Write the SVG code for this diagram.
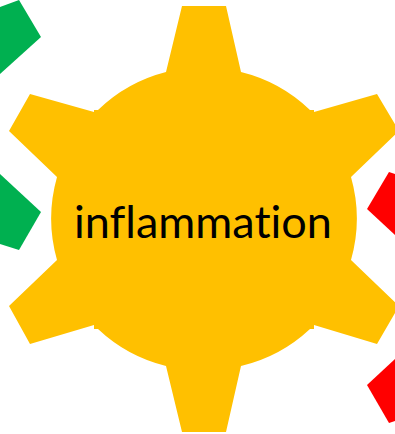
<svg xmlns="http://www.w3.org/2000/svg" width="395" height="434" viewBox="0 0 395 434">
<style>
.gear{fill:#FFC000}
.up{fill:#00B050}
.down{fill:#FF0000}
.label{font-family:"Lato","Liberation Sans",sans-serif;font-size:45px;fill:#000;font-variant-ligatures:none;font-feature-settings:"liga" 0,"dlig" 0,"clig" 0,"calt" 0}
</style>
<rect width="395" height="434" fill="#fff"/>
<g id="green-arrow-1"><polygon class="up" points="0,7 19,0 41,37 0,74"/></g>
<g id="green-arrow-2"><polygon class="up" points="0,174 41,212 19,250 0,244"/></g>
<g id="red-arrow-1"><polygon class="down" points="395,174 389,172 367,209 395,235"/></g>
<g id="red-arrow-2"><polygon class="down" points="395,359 367,385 389,423 395,421"/></g>
<g id="gear-inflammation">
<path class="gear" d="M182,6H226L241,72A152,152 0 0 1 310,110H314V112L377,94L399,131L351,177A152,152 0 0 1 351,260L399,306L377,344L314,325V329H310A152,152 0 0 1 241,366L226,432H182L166,366A152,152 0 0 1 98,329H94V325L30,344L9,306L57,260A152,152 0 0 1 57,177L9,131L30,94L94,112V110H98A152,152 0 0 1 166,72Z"/>
<text class="label" x="74" y="238">inflammation</text>
</g>
</svg>
